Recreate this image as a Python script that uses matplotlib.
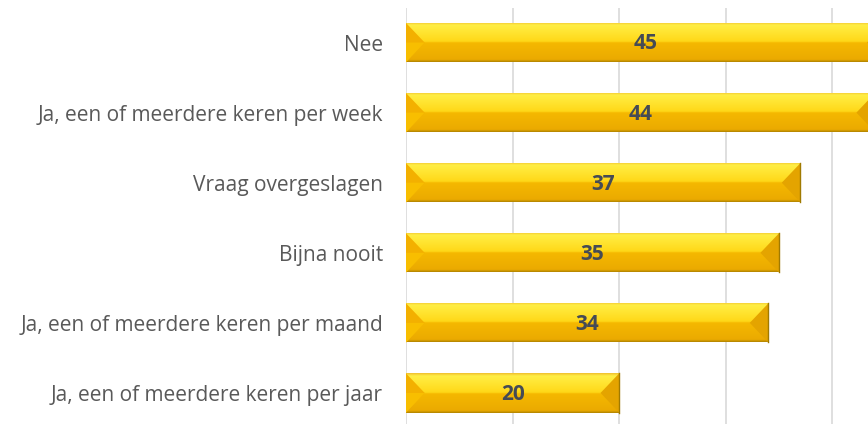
import numpy as np
import matplotlib
matplotlib.use("Agg")
import matplotlib.pyplot as plt
from matplotlib.colors import LinearSegmentedColormap
from matplotlib.patches import Polygon

# data, top to bottom as in the chart
categories = [
    "Nee",
    "Ja, een of meerdere keren per week",
    "Vraag overgeslagen",
    "Bijna nooit",
    "Ja, een of meerdere keren per maand",
    "Ja, een of meerdere keren per jaar",
]
values = [45, 44, 37, 35, 34, 20]

bar_h = 0.56
bevel = 1.75

grad = LinearSegmentedColormap.from_list(
    "gold",
    [
        (0.00, "#B08400"),
        (0.06, "#EBAA00"),
        (0.48, "#F5B800"),
        (0.52, "#FFD818"),
        (0.93, "#FFEE45"),
        (1.00, "#F0C030"),
    ],
)

fig = plt.figure(figsize=(8.68, 4.24), dpi=100)
ax = fig.add_axes([406 / 868, 0, 1 - 406 / 868, (424 - 8) / 424])

ypos = np.arange(len(values))[::-1]

bars = ax.barh(ypos, values, height=bar_h, color="#F5B800",
               edgecolor="none", zorder=2)

gimg = np.linspace(0, 1, 200).reshape(-1, 1)
for bar, v, y in zip(bars, values, ypos):
    top = y + bar_h / 2
    bot = y - bar_h / 2
    im = ax.imshow(gimg, cmap=grad, aspect="auto", origin="lower",
                   extent=(0, v, bot, top), zorder=3)
    im.set_clip_path(bar)
    # bevelled ends
    ax.add_patch(Polygon([(0, top), (bevel, y), (0, bot)],
                         closed=True, facecolor="#F3B000",
                         edgecolor="none", zorder=4))
    ax.add_patch(Polygon([(0, y), (bevel, y), (0, bot)],
                         closed=True, facecolor="#F8BE00",
                         edgecolor="none", zorder=4))
    ax.add_patch(Polygon([(v, top), (v - bevel, y), (v, bot)],
                         closed=True, facecolor="#E4A400",
                         edgecolor="none", zorder=4))
    ax.plot([v, v], [bot, top], color="#A07A00", lw=1.0, zorder=5)
    ax.text(v / 2, y - 0.02, str(v), ha="center", va="center",
            fontsize=15, fontweight="bold", color="#454B55",
            family="Open Sans", zorder=6)

ax.set_xlim(0, (868 - 406) / 10.66)
ax.set_ylim(-0.443, 5.493)
ax.set_xticks([0, 10, 20, 30, 40])
ax.set_xticklabels([])
ax.set_yticks(ypos)
ax.set_yticklabels(categories, fontsize=15, color="#595959",
                   family="Open Sans")
ax.tick_params(axis="both", length=0)
ax.tick_params(axis="y", pad=16.5)
ax.grid(axis="x", color="#D9D9D9", linewidth=1.2, zorder=0)
ax.set_axisbelow(True)
for s in ax.spines.values():
    s.set_visible(False)

fig.savefig("out.png", dpi=100)
